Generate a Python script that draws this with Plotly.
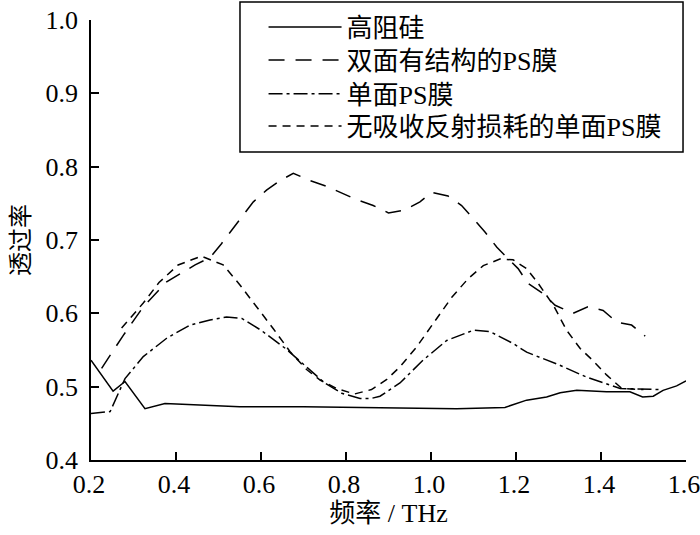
import plotly.graph_objects as go

# 高阻硅
si_x = [0.2, 0.252, 0.28, 0.327, 0.374, 0.45, 0.55, 0.7, 0.88, 1.06, 1.174, 1.225,
        1.272, 1.304, 1.343, 1.413, 1.468, 1.498, 1.523, 1.546, 1.578, 1.6]
si_y = [0.536, 0.494, 0.507, 0.470, 0.477, 0.475, 0.4725, 0.4725, 0.4717, 0.470, 0.4717, 0.4816,
        0.486, 0.4918, 0.495, 0.493, 0.493, 0.486, 0.487, 0.495, 0.501, 0.508]

# 双面有结构的PS膜
dbl_x = [0.225, 0.276, 0.323, 0.378, 0.445, 0.48, 0.507, 0.531, 0.558, 0.582, 0.613, 0.645,
         0.676, 0.715, 0.755, 0.79, 0.825, 0.864, 0.90, 0.939, 0.974, 1.002, 1.04, 1.072,
         1.10, 1.127, 1.155, 1.182, 1.205, 1.228, 1.264, 1.292, 1.334, 1.369, 1.405, 1.437,
         1.472, 1.504]
dbl_y = [0.525, 0.570, 0.609, 0.643, 0.666, 0.676, 0.695, 0.713, 0.734, 0.752, 0.768, 0.781,
         0.791, 0.781, 0.773, 0.764, 0.755, 0.747, 0.737, 0.741, 0.752, 0.765, 0.760, 0.747,
         0.729, 0.711, 0.690, 0.674, 0.661, 0.641, 0.627, 0.611, 0.600, 0.609, 0.604, 0.588,
         0.584, 0.569]

# 单面PS膜
sgl_x = [0.2, 0.245, 0.28, 0.323, 0.378, 0.433, 0.48, 0.519, 0.555, 0.6, 0.66, 0.708,
         0.75, 0.79, 0.833, 0.86, 0.88, 0.927, 0.981, 1.037, 1.10, 1.139, 1.193, 1.225,
         1.296, 1.366, 1.445, 1.539]
sgl_y = [0.4635, 0.466, 0.511, 0.541, 0.566, 0.584, 0.591, 0.595, 0.593, 0.577, 0.551, 0.527,
         0.505, 0.491, 0.484, 0.484, 0.487, 0.505, 0.536, 0.563, 0.577, 0.575, 0.559, 0.547,
         0.531, 0.513, 0.4975, 0.496]

# 无吸收反射损耗的单面PS膜
ideal_x = [0.272, 0.323, 0.36, 0.405, 0.46, 0.511, 0.55, 0.59, 0.629, 0.668, 0.708, 0.739,
           0.78, 0.82, 0.86, 0.896, 0.927, 0.966, 1.005, 1.049, 1.087, 1.123, 1.162, 1.193,
           1.225, 1.252, 1.288, 1.319, 1.351, 1.382, 1.413, 1.449, 1.5]
ideal_y = [0.580, 0.614, 0.642, 0.666, 0.678, 0.666, 0.639, 0.609, 0.579, 0.548, 0.523, 0.509,
           0.497, 0.490, 0.496, 0.510, 0.527, 0.554, 0.586, 0.622, 0.647, 0.665, 0.674, 0.673,
           0.661, 0.641, 0.611, 0.577, 0.552, 0.535, 0.516, 0.4975, 0.496]

names = ["高阻硅", "双面有结构的PS膜", "单面PS膜", "无吸收反射损耗的单面PS膜"]
x_ticks = [0.2, 0.4, 0.6, 0.8, 1.0, 1.2, 1.4, 1.6]
y_ticks = [0.4, 0.5, 0.6, 0.7, 0.8, 0.9, 1.0]

SERIF = "Liberation Serif, Noto Sans CJK SC"

fig = go.Figure()
series = [
    (si_x, si_y, "solid"),
    (dbl_x, dbl_y, "16px,11px"),
    (sgl_x, sgl_y, "14px,4px,3px,4px"),
    (ideal_x, ideal_y, "8px,6px"),
]
# one legend per row so the rows can be spaced like the original
legend_ids = ["legend", "legend2", "legend3", "legend4"]
row_y = [0.984, 0.909, 0.832, 0.759]

for (xs, ys, dash), name, lg in zip(series, names, legend_ids):
    fig.add_trace(go.Scatter(x=xs, y=ys, mode="lines", name=name, legend=lg, showlegend=True,
                             line=dict(color="black", width=1.5, dash=dash)))

axis_common = dict(
    showline=True, linecolor="black", linewidth=1.5,
    ticks="inside", ticklen=8, tickwidth=1.5, tickcolor="black",
    showgrid=False, zeroline=False, ticklabeloverflow="allow",
    tickfont=dict(family="Liberation Serif", size=26, color="black"),
)

legend_style = dict(x=0.29, xanchor="left", yanchor="middle",
                    bgcolor="rgba(0,0,0,0)", borderwidth=0, itemwidth=73,
                    font=dict(family=SERIF, size=26, color="black"))

fig.update_layout(
    width=700, height=535,
    margin=dict(l=91, r=14, t=20, b=75, autoexpand=False),
    paper_bgcolor="white", plot_bgcolor="white",
    showlegend=True,
    xaxis=dict(range=[0.2, 1.6], tickvals=x_ticks, ticktext=[f"{v:.1f}" for v in x_ticks],
               ticklabelshift=-2,
               title=dict(text="频率 / THz", font=dict(family=SERIF, size=26, color="black"),
                          standoff=6),
               **axis_common),
    yaxis=dict(range=[0.4, 1.0], tickvals=y_ticks, ticktext=[f"{v:.1f}" for v in y_ticks],
               title=dict(text="透过率", font=dict(family=SERIF, size=24, color="black"),
                          standoff=9),
               ticklabelstandoff=6,
               **axis_common),
    shapes=[dict(type="rect", xref="paper", yref="paper",
                 x0=0.2504, x1=0.995, y0=0.7, y1=1.041,
                 line=dict(color="black", width=1.5), fillcolor="white", layer="below")],
)
for lg, yy in zip(legend_ids, row_y):
    fig.update_layout({lg: dict(y=yy, **legend_style)})

# the page's default body margin would shift the figure by 8px
fig.write_html("out.html", config={"displayModeBar": False},
               post_script="document.body.style.margin = '0';")
